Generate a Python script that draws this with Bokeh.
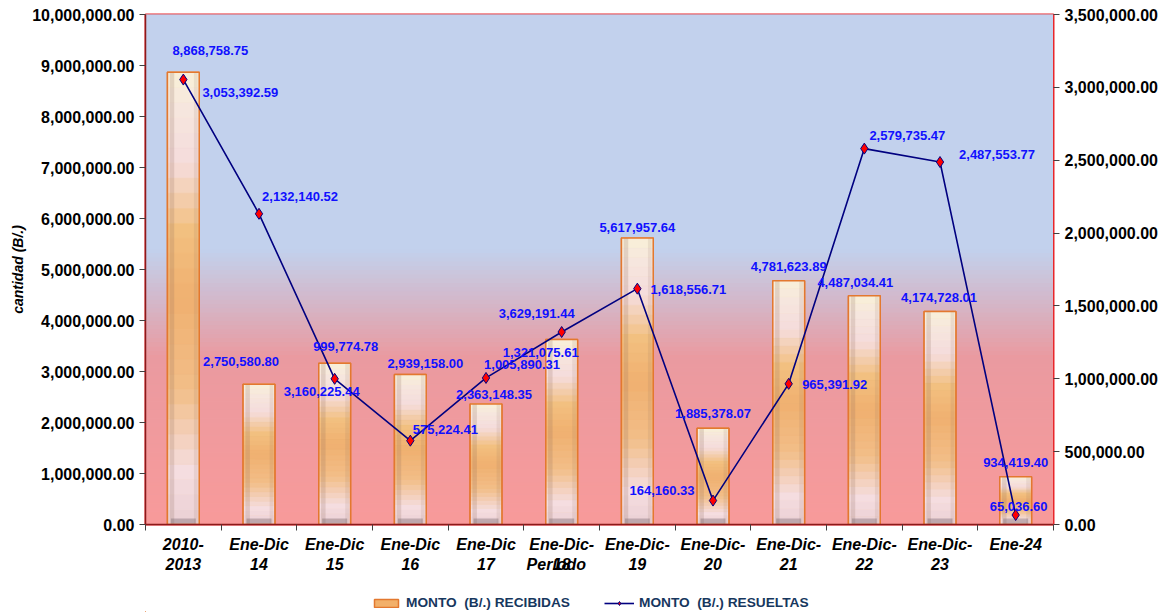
import numpy as np
from bokeh.plotting import figure
from bokeh.layouts import column
from bokeh.models import (Range1d, LinearAxis, FixedTicker, NumeralTickFormatter,
                          Legend, LegendItem, ColumnDataSource)
from bokeh.core.properties import value
from bokeh.embed import file_html
from bokeh.resources import INLINE

# ---------------- data ----------------
periods = ["2010-\n2013", "Ene-Dic\n14", "Ene-Dic\n15", "Ene-Dic\n16", "Ene-Dic\n17",
           "Ene-Dic-\n18", "Ene-Dic-\n19", "Ene-Dic-\n20", "Ene-Dic-\n21",
           "Ene-Dic-\n22", "Ene-Dic-\n23", "Ene-24"]
recibidas = [8868758.75, 2750580.80, 3160225.44, 2939158.00, 2363148.35, 3629191.44,
             5617957.64, 1885378.07, 4781623.89, 4487034.41, 4174728.01, 934419.40]
resueltas = [3053392.59, 2132140.52, 999774.78, 575224.41, 1005890.31, 1321075.61,
             1618556.71, 164160.33, 965391.92, 2579735.47, 2487553.77, 65036.60]
left_ticks = [0, 1e6, 2e6, 3e6, 4e6, 5e6, 6e6, 7e6, 8e6, 9e6, 10e6]
right_ticks = [0, 5e5, 1e6, 1.5e6, 2e6, 2.5e6, 3e6, 3.5e6]
series_names = ["MONTO  (B/.) RECIBIDAS", "MONTO  (B/.) RESUELTAS"]
x_title = "Período"
y_title = "cantidad (B/.)"

# label placement (screen px offsets from the data point)
bar_lbl_dx = [27, -18, -13, 15, 8, -25, 0, 0, 0, -9, -1, 0]
bar_lbl_dy = [-22, -23, 28, -11, -9, -26, -10, -15, -14, -13, -14, -14]
line_lbl_dx = [57, 41, 11, 35, 36, -21, 51, -51, 46, 43, 57, 3]
line_lbl_dy = [13, -17, -32, -11, -13, 20, 1, -10, 1, -13, -8, -9]
x_title_pos = 5.43   # where the x-axis title sits along the category axis

FONT = "Liberation Sans"
n = len(periods)
xs = [i + 0.5 for i in range(n)]

def fmt(v):
    return f"{v:,.2f}"

def lerp_hex(stops, f):
    for (f0, c0), (f1, c1) in zip(stops[:-1], stops[1:]):
        if f0 <= f <= f1:
            t = 0 if f1 == f0 else (f - f0) / (f1 - f0)
            a = [int(c0[k:k + 2], 16) for k in (1, 3, 5)]
            b = [int(c1[k:k + 2], 16) for k in (1, 3, 5)]
            return "#" + "".join(f"{round(x + (y - x) * t):02x}" for x, y in zip(a, b))
    return stops[-1][1]

W, H1, H2 = 1168, 585, 27
p = figure(width=W, height=H1, x_range=Range1d(0, n), y_range=Range1d(0, 10e6),
           output_backend="svg", toolbar_location=None,
           min_border_left=145, min_border_right=115, min_border_top=14, min_border_bottom=H1 - 524)
p.extra_y_ranges = {"right": Range1d(0, 3.5e6)}
p.xgrid.visible = False
p.ygrid.visible = False
p.background_fill_color = "#C2D1ED"
p.border_fill_color = "white"
p.outline_line_color = "#E8262B"
p.outline_line_width = 2

# ---- background gradient ----
bg_stops = [(0.0, "#F89A9A"), (0.33, "#EA9AA0"), (0.43, "#D5B5C6"), (0.54, "#C2D1ED"), (1.0, "#C2D1ED")]
NB = 120
bg_b = [10e6 * k / NB for k in range(NB)]
bg_t = [10e6 * (k + 1) / NB for k in range(NB)]
bg_c = [lerp_hex(bg_stops, (k + 0.5) / NB) for k in range(NB)]
p.quad(left=0, right=n, bottom=bg_b, top=bg_t, fill_color=bg_c, line_color=bg_c, line_width=1,
       level="underlay")

# ---- bars ----
BW = 0.42
BAR_STYLE = dict(fill_color="#F2B06A", line_color="#E3782F", line_width=1.5)
p.vbar(x=xs, top=recibidas, width=BW, **BAR_STYLE)
bar_stops = [(0.0, "#EAD0D4"), (0.12, "#F5DDE0"), (0.3, "#F2BE88"), (0.5, "#F0B070"),
             (0.65, "#F2C080"), (0.8, "#F5DCDC"), (0.92, "#F6E6DE"), (1.0, "#F9F0D8")]
NS = 30
sx, sb, st, sc = [], [], [], []
for i, v in enumerate(recibidas):
    for k in range(NS):
        sx.append(xs[i]); sb.append(v * k / NS); st.append(v * (k + 1) / NS)
        sc.append(lerp_hex(bar_stops, (k + 0.5) / NS))
p.vbar(x=sx, bottom=sb, top=st, width=BW - 0.01, fill_color=sc, line_color=sc, line_width=0.8)
# side shading / bevel
p.vbar(x=[x - 0.15 for x in xs], top=recibidas, width=0.06, fill_color="#8A6A5A", fill_alpha=0.2, line_color=None)
p.vbar(x=[x + 0.165 for x in xs], top=recibidas, width=0.05, fill_color="#8A6A5A", fill_alpha=0.12, line_color=None)
p.vbar(x=xs, top=[min(v, 0.12e6) for v in recibidas], width=0.33, fill_color="#6A5A60", fill_alpha=0.35, line_color=None)
p.vbar(x=xs, top=recibidas, width=BW, fill_alpha=0, line_color="#E3782F", line_width=1.5)

# ---- line ----
LINE_STYLE = dict(line_color="#000080", line_width=1.6)
p.line(xs, resueltas, y_range_name="right", **LINE_STYLE)
p.scatter(xs, resueltas, y_range_name="right", marker="diamond", size=11,
          fill_color="#FF0000", line_color="#000080", line_width=1)

# ---- data labels ----
src_b = ColumnDataSource(dict(x=xs, y=recibidas, t=[fmt(v) for v in recibidas], dx=bar_lbl_dx, dy=bar_lbl_dy))
p.text(x="x", y="y", text="t", x_offset="dx", y_offset="dy", source=src_b,
       text_font=value(FONT), text_font_style="bold", text_font_size="13px",
       text_color="#1010FF", text_align="center", text_baseline="middle")
src_l = ColumnDataSource(dict(x=xs, y=resueltas, t=[fmt(v) for v in resueltas], dx=line_lbl_dx, dy=line_lbl_dy))
p.text(x="x", y="y", text="t", x_offset="dx", y_offset="dy", source=src_l, y_range_name="right",
       text_font=value(FONT), text_font_style="bold", text_font_size="13px",
       text_color="#1010FF", text_align="center", text_baseline="middle")

# ---- axes ----
yl = p.yaxis[0]
yl.ticker = FixedTicker(ticks=left_ticks, minor_ticks=[])
yl.formatter = NumeralTickFormatter(format="0,0.00")
yr = LinearAxis(y_range_name="right", ticker=FixedTicker(ticks=right_ticks, minor_ticks=[]),
                formatter=NumeralTickFormatter(format="0,0.00"))
p.add_layout(yr, "right")
for ax in (yl, yr):
    ax.major_label_text_font = FONT
    ax.major_label_text_font_style = "bold"
    ax.major_label_text_font_size = "16px"
    ax.major_label_text_color = "black"
    ax.major_tick_out = 6
    ax.major_tick_in = 0
    ax.major_tick_line_color = "#404040"
    ax.minor_tick_line_color = None
    ax.major_label_standoff = 5
yl.axis_line_color = "#8B1A1A"
yl.axis_line_width = 1.5
yr.axis_line_color = "#E8262B"
yl.axis_label = y_title
yl.axis_label_text_font = FONT
yl.axis_label_text_font_style = "bold italic"
yl.axis_label_text_font_size = "14px"
yl.axis_label_text_color = "black"
yl.axis_label_standoff = 3

xa = p.xaxis[0]
xa.ticker = FixedTicker(ticks=xs + [x_title_pos], minor_ticks=list(range(n + 1)))
overrides = {x: lab for x, lab in zip(xs, periods)}
overrides[x_title_pos] = "\n" + x_title
xa.major_label_overrides = overrides
xa.major_label_text_font = FONT
xa.major_label_text_font_style = "bold italic"
xa.major_label_text_font_size = "16px"
xa.major_label_text_color = "black"
xa.major_tick_out = 0
xa.major_tick_in = 0
xa.minor_tick_out = 6
xa.minor_tick_in = 0
xa.minor_tick_line_color = "#404040"
xa.axis_line_color = "#8B1A1A"
xa.axis_line_width = 1.5
xa.major_label_standoff = 5

# ---- legend strip (second figure; its marks lie far outside its view) ----
p2 = figure(width=W, height=H2, x_range=Range1d(1000, 1000 + n), y_range=Range1d(1e8, 2e8),
            output_backend="svg", toolbar_location=None,
            min_border_left=0, min_border_right=0, min_border_top=0, min_border_bottom=0)
p2.axis.visible = False
p2.xgrid.visible = False
p2.ygrid.visible = False
p2.outline_line_color = None
p2.background_fill_color = "white"
p2.border_fill_color = "white"
lb = p2.vbar(x=xs, top=recibidas, width=BW, **BAR_STYLE)
ll = p2.line(xs, resueltas, **LINE_STYLE)
lp = p2.scatter(xs, resueltas, marker="diamond", size=7, fill_color="#FF0000", line_color="#000080", line_width=1)
legend = Legend(items=[LegendItem(label=series_names[0], renderers=[lb]),
                       LegendItem(label=series_names[1], renderers=[ll, lp])],
                orientation="horizontal", location=(226, 2),
                label_text_font=FONT, label_text_font_style="bold", label_text_font_size="13.7px",
                label_text_color="#17375E", glyph_width=30, glyph_height=10, label_height=14,
                label_standoff=5, spacing=34, border_line_color=None, background_fill_alpha=0,
                margin=0, padding=4)
p2.add_layout(legend, "center")

open("out.html", "w").write(file_html(column(p, p2, spacing=0), INLINE))
